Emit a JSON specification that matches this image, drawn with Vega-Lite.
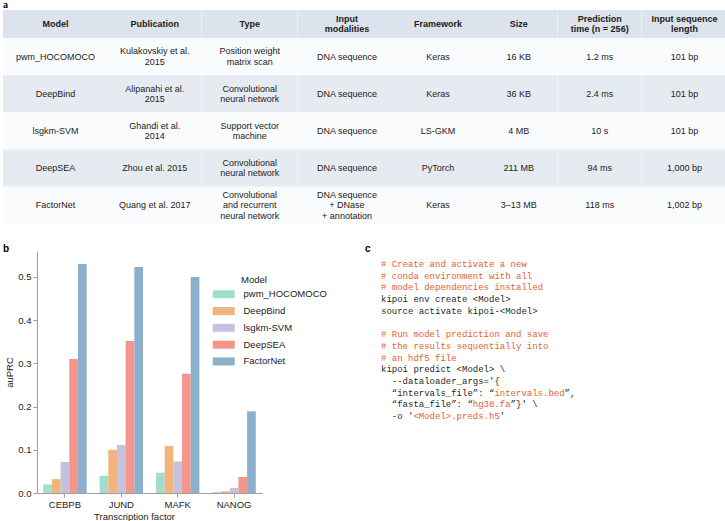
{
  "$schema": "https://vega.github.io/schema/vega-lite/v6.json",
  "padding": {"left": 3, "top": 0, "right": 0, "bottom": 0},
  "title": {"text": "a", "anchor": "start", "frame": "bounds", "font": "Liberation Serif", "fontSize": 10, "fontWeight": "bold", "color": "#000", "offset": 0},
  "config": {
    "view": {"stroke": null},
    "font": "Liberation Sans",
    "text": {"font": "Liberation Sans"}
  },
  "datasets": {
    "cells": [
      {"row": 0, "col": "model", "text": "Model"},
      {"row": 0, "col": "pub", "text": "Publication"},
      {"row": 0, "col": "type", "text": "Type"},
      {"row": 0, "col": "input", "text": "Input\nmodalities"},
      {"row": 0, "col": "fw", "text": "Framework"},
      {"row": 0, "col": "size", "text": "Size"},
      {"row": 0, "col": "time", "text": "Prediction\ntime (n = 256)"},
      {"row": 0, "col": "len", "text": "Input sequence\nlength"},
      {"row": 1, "col": "model", "text": "pwm_HOCOMOCO"},
      {"row": 1, "col": "pub", "text": "Kulakovskiy et al.\n2015"},
      {"row": 1, "col": "type", "text": "Position weight\nmatrix scan"},
      {"row": 1, "col": "input", "text": "DNA sequence"},
      {"row": 1, "col": "fw", "text": "Keras"},
      {"row": 1, "col": "size", "text": "16 KB"},
      {"row": 1, "col": "time", "text": "1.2 ms"},
      {"row": 1, "col": "len", "text": "101 bp"},
      {"row": 2, "col": "model", "text": "DeepBind"},
      {"row": 2, "col": "pub", "text": "Alipanahi et al.\n2015"},
      {"row": 2, "col": "type", "text": "Convolutional\nneural network"},
      {"row": 2, "col": "input", "text": "DNA sequence"},
      {"row": 2, "col": "fw", "text": "Keras"},
      {"row": 2, "col": "size", "text": "36 KB"},
      {"row": 2, "col": "time", "text": "2.4 ms"},
      {"row": 2, "col": "len", "text": "101 bp"},
      {"row": 3, "col": "model", "text": "lsgkm-SVM"},
      {"row": 3, "col": "pub", "text": "Ghandi et al.\n2014"},
      {"row": 3, "col": "type", "text": "Support vector\nmachine"},
      {"row": 3, "col": "input", "text": "DNA sequence"},
      {"row": 3, "col": "fw", "text": "LS-GKM"},
      {"row": 3, "col": "size", "text": "4 MB"},
      {"row": 3, "col": "time", "text": "10 s"},
      {"row": 3, "col": "len", "text": "101 bp"},
      {"row": 4, "col": "model", "text": "DeepSEA"},
      {"row": 4, "col": "pub", "text": "Zhou et al. 2015"},
      {"row": 4, "col": "type", "text": "Convolutional\nneural network"},
      {"row": 4, "col": "input", "text": "DNA sequence"},
      {"row": 4, "col": "fw", "text": "PyTorch"},
      {"row": 4, "col": "size", "text": "211 MB"},
      {"row": 4, "col": "time", "text": "94 ms"},
      {"row": 4, "col": "len", "text": "1,000 bp"},
      {"row": 5, "col": "model", "text": "FactorNet"},
      {"row": 5, "col": "pub", "text": "Quang et al. 2017"},
      {"row": 5, "col": "type", "text": "Convolutional\nand recurrent\nneural network"},
      {"row": 5, "col": "input", "text": "DNA sequence\n+ DNase\n+ annotation"},
      {"row": 5, "col": "fw", "text": "Keras"},
      {"row": 5, "col": "size", "text": "3–13 MB"},
      {"row": 5, "col": "time", "text": "118 ms"},
      {"row": 5, "col": "len", "text": "1,002 bp"}
    ],
    "bars": [
      {"tf": "CEBPB", "model": "pwm_HOCOMOCO", "auprc": 0.020},
      {"tf": "CEBPB", "model": "DeepBind", "auprc": 0.032},
      {"tf": "CEBPB", "model": "lsgkm-SVM", "auprc": 0.072},
      {"tf": "CEBPB", "model": "DeepSEA", "auprc": 0.310},
      {"tf": "CEBPB", "model": "FactorNet", "auprc": 0.530},
      {"tf": "JUND", "model": "pwm_HOCOMOCO", "auprc": 0.040},
      {"tf": "JUND", "model": "DeepBind", "auprc": 0.100},
      {"tf": "JUND", "model": "lsgkm-SVM", "auprc": 0.111},
      {"tf": "JUND", "model": "DeepSEA", "auprc": 0.352},
      {"tf": "JUND", "model": "FactorNet", "auprc": 0.523},
      {"tf": "MAFK", "model": "pwm_HOCOMOCO", "auprc": 0.047},
      {"tf": "MAFK", "model": "DeepBind", "auprc": 0.109},
      {"tf": "MAFK", "model": "lsgkm-SVM", "auprc": 0.073},
      {"tf": "MAFK", "model": "DeepSEA", "auprc": 0.276},
      {"tf": "MAFK", "model": "FactorNet", "auprc": 0.500},
      {"tf": "NANOG", "model": "pwm_HOCOMOCO", "auprc": 0.002},
      {"tf": "NANOG", "model": "DeepBind", "auprc": 0.004},
      {"tf": "NANOG", "model": "lsgkm-SVM", "auprc": 0.012},
      {"tf": "NANOG", "model": "DeepSEA", "auprc": 0.037},
      {"tf": "NANOG", "model": "FactorNet", "auprc": 0.189}
    ],
    "code": [
      {"line": 1, "col": 0, "kind": "comment", "text": "# Create and activate a new"},
      {"line": 2, "col": 0, "kind": "comment", "text": "# conda environment with all"},
      {"line": 3, "col": 0, "kind": "comment", "text": "# model dependencies installed"},
      {"line": 4, "col": 0, "kind": "code", "text": "kipoi env create <Model>"},
      {"line": 5, "col": 0, "kind": "code", "text": "source activate kipoi-<Model>"},
      {"line": 7, "col": 0, "kind": "comment", "text": "# Run model prediction and save"},
      {"line": 8, "col": 0, "kind": "comment", "text": "# the results sequentially into"},
      {"line": 9, "col": 0, "kind": "comment", "text": "# an hdf5 file"},
      {"line": 10, "col": 0, "kind": "code", "text": "kipoi predict <Model> \\"},
      {"line": 11, "col": 2, "kind": "code", "text": "--dataloader_args='{"},
      {"line": 12, "col": 2, "kind": "code", "text": "“intervals_file”: “"},
      {"line": 12, "col": 21, "kind": "string", "text": "intervals.bed"},
      {"line": 12, "col": 34, "kind": "code", "text": "”,"},
      {"line": 13, "col": 2, "kind": "code", "text": "“fasta_file”: “"},
      {"line": 13, "col": 17, "kind": "string", "text": "hg38.fa"},
      {"line": 13, "col": 24, "kind": "code", "text": "”}' \\"},
      {"line": 14, "col": 2, "kind": "code", "text": "-o '"},
      {"line": 14, "col": 6, "kind": "string", "text": "<Model>.preds.h5"},
      {"line": 14, "col": 22, "kind": "code", "text": "'"}
    ]
  },
  "columns": 1,
  "align": "none",
  "spacing": 20,
  "concat": [
    {
      "spacing": 0,
      "vconcat": [
        {
          "spacing": 0,
          "bounds": "flush",
          "hconcat": [
            {"width": 105, "height": 28, "view": {"fill": "#dce3ec", "stroke": null}, "data": {"name": "cells"}, "transform": [{"filter": "datum.row == 0 && datum.col == 'model'"}], "mark": {"type": "text", "fontSize": 9, "fontWeight": "bold", "lineBreak": "\n", "lineHeight": 10.5, "color": "#1a1a1a", "dy": {"expr": "-5.25 * (length(split(datum.text, '\\n')) - 1)"}}, "encoding": {"text": {"field": "text"}}},
            {"width": 93.5, "height": 28, "view": {"fill": "#dce3ec", "stroke": null}, "data": {"name": "cells"}, "transform": [{"filter": "datum.row == 0 && datum.col == 'pub'"}], "mark": {"type": "text", "fontSize": 9, "fontWeight": "bold", "lineBreak": "\n", "lineHeight": 10.5, "color": "#1a1a1a", "dy": {"expr": "-5.25 * (length(split(datum.text, '\\n')) - 1)"}}, "encoding": {"text": {"field": "text"}}},
            {"width": 95.5, "height": 28, "view": {"fill": "#dce3ec", "stroke": null}, "data": {"name": "cells"}, "transform": [{"filter": "datum.row == 0 && datum.col == 'type'"}], "mark": {"type": "text", "fontSize": 9, "fontWeight": "bold", "lineBreak": "\n", "lineHeight": 10.5, "color": "#1a1a1a", "dy": {"expr": "-5.25 * (length(split(datum.text, '\\n')) - 1)"}}, "encoding": {"text": {"field": "text"}}},
            {"width": 98, "height": 28, "view": {"fill": "#dce3ec", "stroke": null}, "data": {"name": "cells"}, "transform": [{"filter": "datum.row == 0 && datum.col == 'input'"}], "mark": {"type": "text", "fontSize": 9, "fontWeight": "bold", "lineBreak": "\n", "lineHeight": 10.5, "color": "#1a1a1a", "dy": {"expr": "-5.25 * (length(split(datum.text, '\\n')) - 1)"}}, "encoding": {"text": {"field": "text"}}},
            {"width": 84, "height": 28, "view": {"fill": "#dce3ec", "stroke": null}, "data": {"name": "cells"}, "transform": [{"filter": "datum.row == 0 && datum.col == 'fw'"}], "mark": {"type": "text", "fontSize": 9, "fontWeight": "bold", "lineBreak": "\n", "lineHeight": 10.5, "color": "#1a1a1a", "dy": {"expr": "-5.25 * (length(split(datum.text, '\\n')) - 1)"}}, "encoding": {"text": {"field": "text"}}},
            {"width": 77.5, "height": 28, "view": {"fill": "#dce3ec", "stroke": null}, "data": {"name": "cells"}, "transform": [{"filter": "datum.row == 0 && datum.col == 'size'"}], "mark": {"type": "text", "fontSize": 9, "fontWeight": "bold", "lineBreak": "\n", "lineHeight": 10.5, "color": "#1a1a1a", "dy": {"expr": "-5.25 * (length(split(datum.text, '\\n')) - 1)"}}, "encoding": {"text": {"field": "text"}}},
            {"width": 83.5, "height": 28, "view": {"fill": "#dce3ec", "stroke": null}, "data": {"name": "cells"}, "transform": [{"filter": "datum.row == 0 && datum.col == 'time'"}], "mark": {"type": "text", "fontSize": 9, "fontWeight": "bold", "lineBreak": "\n", "lineHeight": 10.5, "color": "#1a1a1a", "dy": {"expr": "-5.25 * (length(split(datum.text, '\\n')) - 1)"}}, "encoding": {"text": {"field": "text"}}},
            {"width": 85, "height": 28, "view": {"fill": "#dce3ec", "stroke": null}, "data": {"name": "cells"}, "transform": [{"filter": "datum.row == 0 && datum.col == 'len'"}], "mark": {"type": "text", "fontSize": 9, "fontWeight": "bold", "lineBreak": "\n", "lineHeight": 10.5, "color": "#1a1a1a", "dy": {"expr": "-5.25 * (length(split(datum.text, '\\n')) - 1)"}}, "encoding": {"text": {"field": "text"}}}
          ]
        },
        {
          "spacing": 0,
          "bounds": "flush",
          "hconcat": [
            {"width": 105, "height": 186, "data": {"name": "cells"}, "transform": [{"filter": "datum.row > 0 && datum.col == 'model'"}], "encoding": {"y": {"field": "row", "type": "ordinal", "axis": null, "scale": {"type": "band", "paddingInner": 0, "paddingOuter": 0}}}, "layer": [{"mark": {"type": "rect"}, "encoding": {"color": {"condition": {"test": "datum.row % 2 == 0", "value": "#e6ebf2"}, "value": "#fafbfc"}}}, {"mark": {"type": "text", "fontSize": 9, "lineBreak": "\n", "lineHeight": 10.5, "color": "#222", "dy": {"expr": "-5.25 * (length(split(datum.text, '\\n')) - 1)"}}, "encoding": {"text": {"field": "text"}}}]},
            {"width": 93.5, "height": 186, "data": {"name": "cells"}, "transform": [{"filter": "datum.row > 0 && datum.col == 'pub'"}], "encoding": {"y": {"field": "row", "type": "ordinal", "axis": null, "scale": {"type": "band", "paddingInner": 0, "paddingOuter": 0}}}, "layer": [{"mark": {"type": "rect"}, "encoding": {"color": {"condition": {"test": "datum.row % 2 == 0", "value": "#e6ebf2"}, "value": "#fafbfc"}}}, {"mark": {"type": "text", "fontSize": 9, "lineBreak": "\n", "lineHeight": 10.5, "color": "#222", "dy": {"expr": "-5.25 * (length(split(datum.text, '\\n')) - 1)"}}, "encoding": {"text": {"field": "text"}}}]},
            {"width": 95.5, "height": 186, "data": {"name": "cells"}, "transform": [{"filter": "datum.row > 0 && datum.col == 'type'"}], "encoding": {"y": {"field": "row", "type": "ordinal", "axis": null, "scale": {"type": "band", "paddingInner": 0, "paddingOuter": 0}}}, "layer": [{"mark": {"type": "rect"}, "encoding": {"color": {"condition": {"test": "datum.row % 2 == 0", "value": "#e6ebf2"}, "value": "#fafbfc"}}}, {"mark": {"type": "text", "fontSize": 9, "lineBreak": "\n", "lineHeight": 10.5, "color": "#222", "dy": {"expr": "-5.25 * (length(split(datum.text, '\\n')) - 1)"}}, "encoding": {"text": {"field": "text"}}}]},
            {"width": 98, "height": 186, "data": {"name": "cells"}, "transform": [{"filter": "datum.row > 0 && datum.col == 'input'"}], "encoding": {"y": {"field": "row", "type": "ordinal", "axis": null, "scale": {"type": "band", "paddingInner": 0, "paddingOuter": 0}}}, "layer": [{"mark": {"type": "rect"}, "encoding": {"color": {"condition": {"test": "datum.row % 2 == 0", "value": "#e6ebf2"}, "value": "#fafbfc"}}}, {"mark": {"type": "text", "fontSize": 9, "lineBreak": "\n", "lineHeight": 10.5, "color": "#222", "dy": {"expr": "-5.25 * (length(split(datum.text, '\\n')) - 1)"}}, "encoding": {"text": {"field": "text"}}}]},
            {"width": 84, "height": 186, "data": {"name": "cells"}, "transform": [{"filter": "datum.row > 0 && datum.col == 'fw'"}], "encoding": {"y": {"field": "row", "type": "ordinal", "axis": null, "scale": {"type": "band", "paddingInner": 0, "paddingOuter": 0}}}, "layer": [{"mark": {"type": "rect"}, "encoding": {"color": {"condition": {"test": "datum.row % 2 == 0", "value": "#e6ebf2"}, "value": "#fafbfc"}}}, {"mark": {"type": "text", "fontSize": 9, "lineBreak": "\n", "lineHeight": 10.5, "color": "#222", "dy": {"expr": "-5.25 * (length(split(datum.text, '\\n')) - 1)"}}, "encoding": {"text": {"field": "text"}}}]},
            {"width": 77.5, "height": 186, "data": {"name": "cells"}, "transform": [{"filter": "datum.row > 0 && datum.col == 'size'"}], "encoding": {"y": {"field": "row", "type": "ordinal", "axis": null, "scale": {"type": "band", "paddingInner": 0, "paddingOuter": 0}}}, "layer": [{"mark": {"type": "rect"}, "encoding": {"color": {"condition": {"test": "datum.row % 2 == 0", "value": "#e6ebf2"}, "value": "#fafbfc"}}}, {"mark": {"type": "text", "fontSize": 9, "lineBreak": "\n", "lineHeight": 10.5, "color": "#222", "dy": {"expr": "-5.25 * (length(split(datum.text, '\\n')) - 1)"}}, "encoding": {"text": {"field": "text"}}}]},
            {"width": 83.5, "height": 186, "data": {"name": "cells"}, "transform": [{"filter": "datum.row > 0 && datum.col == 'time'"}], "encoding": {"y": {"field": "row", "type": "ordinal", "axis": null, "scale": {"type": "band", "paddingInner": 0, "paddingOuter": 0}}}, "layer": [{"mark": {"type": "rect"}, "encoding": {"color": {"condition": {"test": "datum.row % 2 == 0", "value": "#e6ebf2"}, "value": "#fafbfc"}}}, {"mark": {"type": "text", "fontSize": 9, "lineBreak": "\n", "lineHeight": 10.5, "color": "#222", "dy": {"expr": "-5.25 * (length(split(datum.text, '\\n')) - 1)"}}, "encoding": {"text": {"field": "text"}}}]},
            {"width": 85, "height": 186, "data": {"name": "cells"}, "transform": [{"filter": "datum.row > 0 && datum.col == 'len'"}], "encoding": {"y": {"field": "row", "type": "ordinal", "axis": null, "scale": {"type": "band", "paddingInner": 0, "paddingOuter": 0}}}, "layer": [{"mark": {"type": "rect"}, "encoding": {"color": {"condition": {"test": "datum.row % 2 == 0", "value": "#e6ebf2"}, "value": "#fafbfc"}}}, {"mark": {"type": "text", "fontSize": 9, "lineBreak": "\n", "lineHeight": 10.5, "color": "#222", "dy": {"expr": "-5.25 * (length(split(datum.text, '\\n')) - 1)"}}, "encoding": {"text": {"field": "text"}}}]}
          ]
        }
      ]
    },
    {
      "spacing": 38,
      "resolve": {"scale": {"color": "independent"}, "legend": {"color": "independent"}},
      "hconcat": [
        {
          "width": 259,
          "height": 242,
          "title": {"text": "b", "anchor": "start", "frame": "bounds", "fontSize": 10, "fontWeight": "bold", "color": "#000", "offset": -3},
          "data": {"name": "bars"},
          "mark": {"type": "bar"},
          "encoding": {
            "x": {"field": "tf", "type": "nominal", "scale": {"range": [34, 259], "paddingInner": 0.23, "paddingOuter": 0.11},
                  "axis": {"title": "Transcription factor", "titleX": 131, "labelAngle": 0, "domainColor": "#a0a0a0", "tickColor": "#a0a0a0", "tickSize": 4, "labelFontSize": 9.5, "labelColor": "#222", "labelPadding": 2, "titleFontSize": 9.5, "titleFontWeight": "normal", "titleColor": "#222", "titlePadding": 3}},
            "y": {"field": "auprc", "type": "quantitative", "scale": {"domain": [0, 0.56], "nice": false},
                  "axis": {"title": "auPRC", "offset": -34, "values": [0, 0.1, 0.2, 0.3, 0.4, 0.5], "format": ".1f", "grid": false, "domainColor": "#a0a0a0", "tickColor": "#a0a0a0", "tickSize": 4, "labelFontSize": 9.5, "labelColor": "#222", "labelPadding": 2, "titleFontSize": 9.5, "titleFontWeight": "normal", "titleColor": "#222", "titlePadding": 3}},
            "xOffset": {"field": "model", "type": "nominal", "sort": ["pwm_HOCOMOCO", "DeepBind", "lsgkm-SVM", "DeepSEA", "FactorNet"], "scale": {"paddingInner": 0, "paddingOuter": 0}},
            "color": {"field": "model", "type": "nominal", "sort": ["pwm_HOCOMOCO", "DeepBind", "lsgkm-SVM", "DeepSEA", "FactorNet"],
                      "scale": {"domain": ["pwm_HOCOMOCO", "DeepBind", "lsgkm-SVM", "DeepSEA", "FactorNet"], "range": ["#a2ded0", "#f0b47c", "#c5c2de", "#f4948a", "#8cb0cb"]},
                      "legend": {"orient": "none", "legendX": 238, "legendY": 24, "title": "Model", "titleFontSize": 9.5, "titleFontWeight": "normal", "titleColor": "#222", "titlePadding": 5, "labelFontSize": 9.5, "labelColor": "#222", "symbolType": "M-8.25,-1H-2.75V1H-8.25Z", "symbolSize": 64, "symbolStrokeWidth": 0, "symbolOpacity": 1, "labelOffset": -7, "rowPadding": 5.8}}
          }
        },
        {
          "width": 216,
          "height": 178,
          "title": {"text": "c", "anchor": "start", "frame": "group", "fontSize": 10, "fontWeight": "bold", "color": "#000", "dx": -16, "offset": -3},
          "data": {"name": "code"},
          "mark": {"type": "text", "align": "left", "baseline": "middle", "font": "Liberation Mono", "fontSize": 9},
          "encoding": {
            "x": {"field": "col", "type": "quantitative", "scale": {"domain": [0, 40], "nice": false, "zero": false}, "axis": null},
            "y": {"field": "line", "type": "ordinal", "scale": {"type": "band", "domain": [1, 2, 3, 4, 5, 6, 7, 8, 9, 10, 11, 12, 13, 14], "paddingInner": 0, "paddingOuter": 0.61}, "axis": null},
            "text": {"field": "text"},
            "color": {"field": "kind", "type": "nominal", "scale": {"domain": ["code", "comment", "string"], "range": ["#1f1f1f", "#e3622f", "#e3622f"]}, "legend": null}
          }
        }
      ]
    }
  ]
}
